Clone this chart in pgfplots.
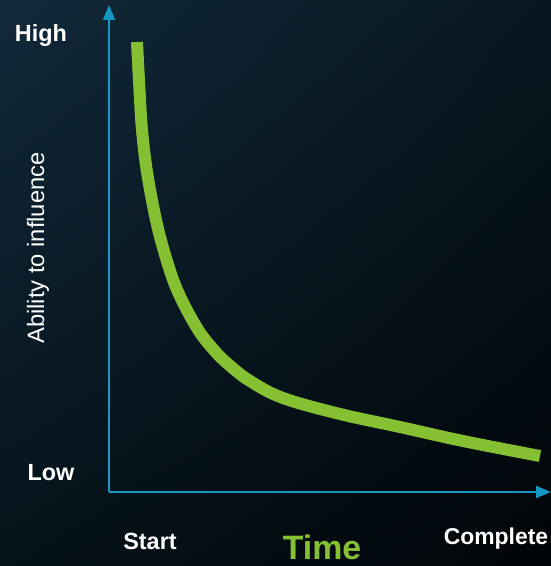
\documentclass[border=0pt]{standalone}
\usepackage{pgfplots}
\pgfplotsset{compat=1.18}
\usepackage{fontspec}
\setmainfont{Liberation Sans}
\usetikzlibrary{arrows.meta,shadings}
\definecolor{axisblue}{HTML}{1596C3}
\definecolor{curvegreen}{HTML}{84C031}
\definecolor{bgUL}{HTML}{11293A}
\definecolor{bgUR}{HTML}{071720}
\definecolor{bgLL}{HTML}{05121A}
\definecolor{bgLR}{HTML}{010407}
\pgfplotstableread{
x y
28 450
30.5 402
33 362
38 320
47 272
57 234
69 200
88 164
104 143
119 128
141 111
174 94
231 78
291 65
354 51
431 36
}\curvedata
\begin{document}
\begin{tikzpicture}
\useasboundingbox (0,0) rectangle (551bp,566bp);
\shade[upper left=bgUL, upper right=bgUR, lower left=bgLL, lower right=bgLR] (0,0) rectangle (551bp,566bp);
\begin{axis}[
  at={(109bp,74bp)}, anchor=south west,
  scale only axis, width=442bp, height=487bp,
  xmin=0, xmax=442, ymin=0, ymax=487,
  axis lines=left,
  axis line style={color=axisblue, line width=2bp, -{Triangle[length=15bp,width=12bp]}},
  xtick=\empty, ytick=\empty,
  clip=false,
]
\addplot[curvegreen, line width=12bp, smooth, tension=0.6] table[x=x,y=y] {\curvedata};
\node[white, font=\bfseries\fontsize{23.5}{27}\selectfont] at (axis cs:-68,456) {High};
\node[white, font=\bfseries\fontsize{23.5}{27}\selectfont] at (axis cs:-58,19) {Low};
\node[white, font=\bfseries\fontsize{23.5}{27}\selectfont] at (axis cs:41,-49) {Start};
\node[white, font=\bfseries\fontsize{23}{27}\selectfont] at (axis cs:387,-47) {Complete};
\node[curvegreen, inner sep=0pt, font=\bfseries\fontsize{34}{40}\selectfont] at (axis cs:213,-55) {Time};
\node[white, rotate=90, font=\fontsize{23.8}{27}\selectfont] at (axis cs:-71,244) {Ability to influence};
\end{axis}
\end{tikzpicture}
\end{document}
